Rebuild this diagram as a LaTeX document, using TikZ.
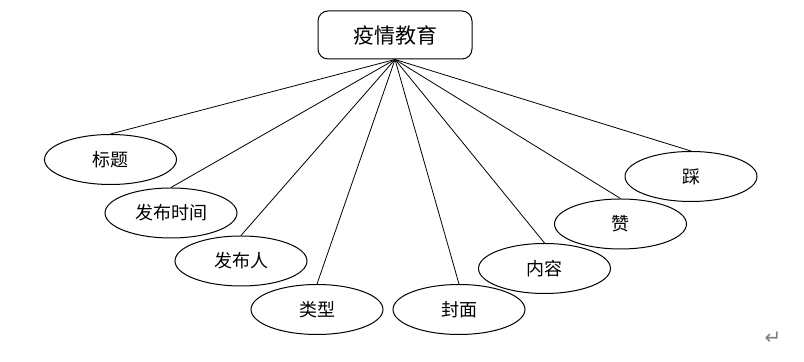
\documentclass[tikz,border=0pt]{standalone}
\usepackage{fontspec}
\newfontfamily\cjk{Noto Sans CJK SC}
\newfontfamily\symfont{DejaVu Sans}
\usetikzlibrary{shapes.geometric}

\begin{document}
\begin{tikzpicture}[x=.5pt,y=.5pt,line width=.5pt,
  entity/.style={draw,rectangle,rounded corners=5pt,inner sep=0pt,
    minimum width=77pt,minimum height=24pt,font=\cjk\fontsize{10.5}{12}\selectfont},
  attr/.style={draw,ellipse,inner sep=0pt,minimum width=66pt,
    minimum height=25pt,font=\cjk\fontsize{9}{11}\selectfont},
  link/.style={line width=.4pt}]
\useasboundingbox (0,0) rectangle (804,-362);
\node[entity] (edu) at (395,-35) {疫情教育};
% Attribute ellipses, left to right, each joined to the entity.
\foreach \n/\x/\y/\t in {title/110.5/159.5/标题,time/171/213/发布时间,
    publisher/241/261/发布人,type/317/309.5/类型,cover/459/309.5/封面,
    content/544.5/268.5/内容,like/620.5/224/赞,dislike/691/176.5/踩}{
  \node[attr] (\n) at (\x,-\y) {\t};
  \draw[link] (edu.south) -- (\n.north);
}
\node[text=black!50,font=\symfont\fontsize{10}{12}\selectfont] (ret) at (773,-338) {↵};
\end{tikzpicture}
\end{document}
